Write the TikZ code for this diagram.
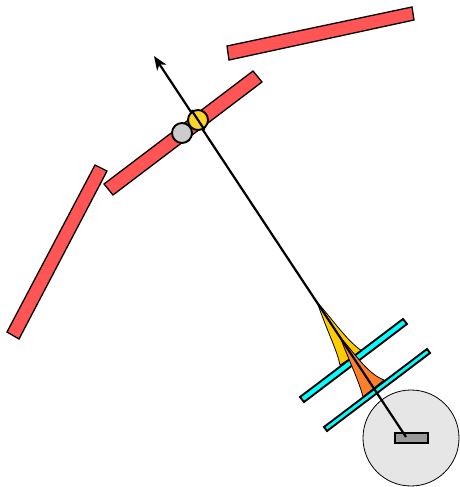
\documentclass[tikz,border=0pt]{standalone}
\usetikzlibrary{arrows.meta}
\definecolor{barred}{RGB}{255,85,85}
\definecolor{barcyan}{RGB}{0,255,255}
\definecolor{fanyellow}{RGB}{255,204,0}
\definecolor{fanorange}{RGB}{255,127,42}
\definecolor{dotyellow}{RGB}{255,212,42}
\definecolor{dotgray}{RGB}{204,204,204}
\definecolor{discgray}{RGB}{230,230,230}
\definecolor{rectgray}{RGB}{153,153,153}
\tikzset{
  part/.style={draw=black,line width=1.9pt,line join=miter},
  mirror/.style={draw=black,line width=1.3pt,fill=barred},
  thin part/.style={draw=black,line width=0.8pt},
  beam/.style={draw=black,line width=2.2pt,-{Stealth[length=14pt,width=11pt,inset=4pt]}},
  fan/.style={draw=black,line width=0.8pt},
}
\begin{document}
\begin{tikzpicture}[x=1pt,y=-1pt]
\useasboundingbox (0,0) rectangle (460,487);
\fill[white] (0,0) rectangle (460,487);
% mirrors
\draw[mirror] (227,46) -- (412,7) -- (414,20) -- (229,60) -- cycle;
\draw[mirror] (253,71) -- (262,82) -- (113,195) -- (104,184) -- cycle;
\draw[mirror] (95,165) -- (107,171) -- (19,339) -- (7,332) -- cycle;
% source
\draw[thin part,fill=discgray] (411,438) circle (48);
\draw[part,line width=1.5pt,fill=rectgray] (395,433) rectangle (428,443);
% yellow beam and first grating
\draw[fan,fill=fanyellow] (317,302) .. controls (333,320) and (347,341) .. (362,351) -- (340,365) .. controls (337,350) and (329,336) .. cycle;
\draw[part,fill=barcyan] (403,319) -- (407,324) -- (304,402) -- (300,397) -- cycle;
% orange beam and second grating
\draw[fan,fill=fanorange] (340,337) .. controls (356,355) and (368,374) .. (384,380) -- (363,397) .. controls (360,384) and (351,365) .. cycle;
\draw[part,fill=barcyan] (427,349) -- (430,353) -- (327,431) -- (324,427) -- cycle;
% axis
\coordinate (axisstart) at (406,437);
\coordinate (axisend) at (154,56);
\draw[beam] (axisstart) -- (axisend);
% rotating parts
\draw[part,fill=dotyellow] (198,120) circle (10);
\draw[line width=2.2pt] (191.5,110.2) -- (204.5,129.8);
\draw[part,fill=dotgray] (182,133) circle (10);
\end{tikzpicture}
\end{document}
